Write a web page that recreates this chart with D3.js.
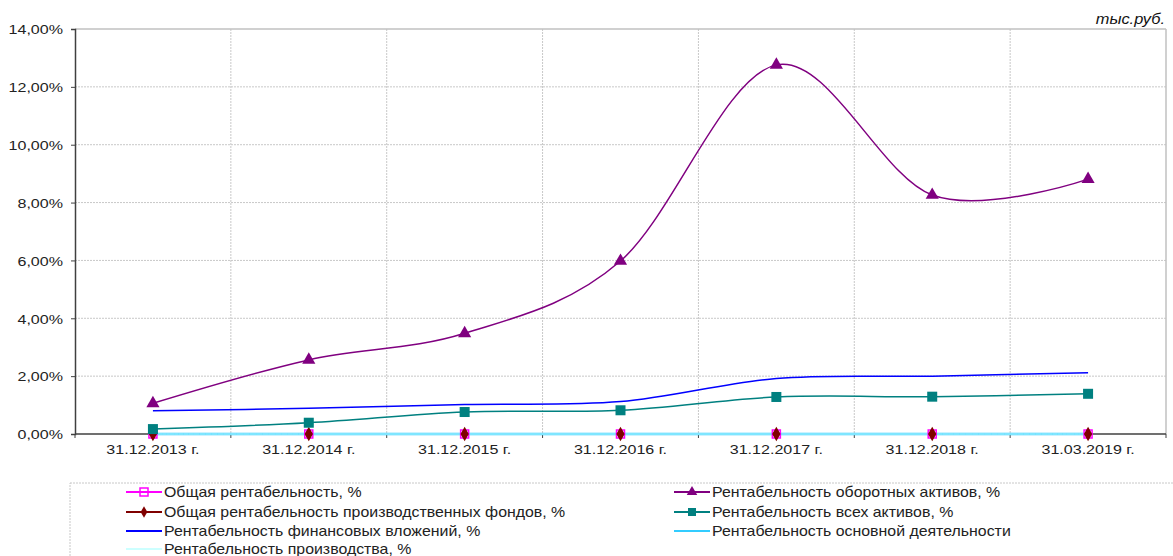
<!DOCTYPE html>
<html>
<head>
<meta charset="utf-8">
<script src="https://cdn.jsdelivr.net/npm/d3@7"></script>
<style>
    body { margin: 0; background: #fff; }
    svg text { font-family: "Liberation Sans", Arial, sans-serif; }
</style>
</head>
<body>
<div id="chart"></div>
<script>
const categories = ["31.12.2013 г.", "31.12.2014 г.", "31.12.2015 г.", "31.12.2016 г.",
    "31.12.2017 г.", "31.12.2018 г.", "31.03.2019 г."];
const yTicks = [0, 2, 4, 6, 8, 10, 12, 14];

// values, %
const obshayaRent = [0, 0, 0, 0, 0, 0, 0];
const proizvFondov = [0, 0, 0, 0, 0, 0, 0];
const finVlozheniy = [0.80, 0.89, 1.02, 1.12, 1.92, 2.00, 2.12];
const osnDeyat = [0, 0, 0, 0, 0, 0, 0];
const proizvodstva = [0, 0, 0, 0, 0, 0, 0];
const oborotAktivov = [1.06, 2.56, 3.48, 5.98, 12.76, 8.26, 8.81];
const vsehAktivov = [0.17, 0.39, 0.76, 0.82, 1.28, 1.29, 1.39];

const width = 1173, height = 556;
const margin = {top: 29, right: 7, bottom: 122, left: 75};
const plotW = width - margin.left - margin.right;
const plotH = height - margin.top - margin.bottom;

const series = [
    {name: "Общая рентабельность, %", values: obshayaRent, color: "#ff00ff", marker: "openSquare", col: 0, row: 0, w: 1.5},
    {name: "Рентабельность оборотных активов, %", values: oborotAktivov, color: "#800080", marker: "triangle", col: 1, row: 0, w: 1.5},
    {name: "Общая рентабельность производственных фондов, %", values: proizvFondov, color: "#800000", marker: "diamond", col: 0, row: 1, w: 1.5},
    {name: "Рентабельность всех активов, %", values: vsehAktivov, color: "#008080", marker: "square", col: 1, row: 1, w: 1.5},
    {name: "Рентабельность финансовых вложений, %", values: finVlozheniy, color: "#0000ff", marker: null, col: 0, row: 2, w: 1.5},
    {name: "Рентабельность основной деятельности", values: osnDeyat, color: "#33ccff", marker: null, col: 1, row: 2, w: 2.5},
    {name: "Рентабельность производства, %", values: proizvodstva, color: "#ccffff", marker: null, col: 0, row: 3, w: 1}
];

const ru = d3.formatLocale({decimal: ",", thousands: " ", grouping: [3], currency: ["", " руб."]});
const fmt = ru.format(".2f");

// the original text is a little wider than Arial, so stretch it horizontally
const stretch = 1.19;

const svg = d3.select("#chart").append("svg")
    .attr("width", width)
    .attr("height", height);

const x = d3.scaleBand().domain(categories).range([0, plotW]);
const y = d3.scaleLinear().domain([0, 14]).range([plotH, 0]);

const g = svg.append("g")
    .attr("transform", "translate(" + margin.left + "," + margin.top + ")");

// gridlines
g.append("g").selectAll("line.h")
    .data(yTicks.slice(1, -1))
    .join("line")
    .attr("x1", 0).attr("x2", plotW)
    .attr("y1", d => y(d)).attr("y2", d => y(d))
    .attr("stroke", "#c8c8c8")
    .attr("stroke-dasharray", "2,1");

g.append("g").selectAll("line.v")
    .data(categories.slice(1))
    .join("line")
    .attr("x1", d => x(d)).attr("x2", d => x(d))
    .attr("y1", 0).attr("y2", plotH)
    .attr("stroke", "#c8c8c8")
    .attr("stroke-dasharray", "2,1");

// frame top / right
g.append("line").attr("x1", 0).attr("x2", plotW).attr("y1", 0).attr("y2", 0)
    .attr("stroke", "#c0c0c0").attr("stroke-width", 1.5);
g.append("line").attr("x1", plotW).attr("x2", plotW).attr("y1", 0).attr("y2", plotH)
    .attr("stroke", "#c0c0c0").attr("stroke-width", 1.5);

// y axis
const yAxis = g.append("g")
    .call(d3.axisLeft(y).tickValues(yTicks).tickSize(4).tickFormat(""));
yAxis.select(".domain").attr("stroke", "#404040").attr("stroke-width", 1.5);
yAxis.selectAll(".tick line").attr("stroke", "#404040");
yAxis.selectAll(".tick").append("text")
    .attr("transform", "translate(-12,0) scale(" + stretch + ",1)")
    .attr("dy", "0.35em")
    .attr("text-anchor", "end")
    .attr("font-size", "13.5px")
    .attr("fill", "#222")
    .text(d => fmt(d) + "%");

// x axis: ticks at category boundaries
const xAxis = g.append("g")
    .attr("transform", "translate(0," + plotH + ")");
xAxis.append("line").attr("x1", 0).attr("x2", plotW)
    .attr("stroke", "#404040").attr("stroke-width", 1.5);
xAxis.selectAll("line.tick")
    .data(categories.concat([null]))
    .join("line")
    .attr("x1", (d, i) => i * x.step()).attr("x2", (d, i) => i * x.step())
    .attr("y1", 0).attr("y2", 4)
    .attr("stroke", "#404040");
xAxis.selectAll("text")
    .data(categories)
    .join("text")
    .attr("transform", d => "translate(" + (x(d) + x.bandwidth() / 2) + ",20) scale(" + stretch + ",1)")
    .attr("text-anchor", "middle")
    .attr("font-size", "13.5px")
    .attr("fill", "#222")
    .text(d => d);

// lines
const line = d3.line()
    .x((d, i) => x(categories[i]) + x.bandwidth() / 2)
    .y(d => y(d))
    .curve(d3.curveCardinal.tension(0));

const drawOrder = [0, 2, 4, 5, 6, 1, 3];
drawOrder.forEach(idx => {
    const s = series[idx];
    g.append("path")
        .datum(s.values)
        .attr("fill", "none")
        .attr("stroke", s.color)
        .attr("stroke-width", s.w)
        .attr("d", line);
});

function drawMarker(sel, type, color, size) {
    if (type === "openSquare") {
        sel.append("rect").attr("x", -size / 2).attr("y", -size / 2)
            .attr("width", size).attr("height", size)
            .attr("fill", "none").attr("stroke", color).attr("stroke-width", 1.5);
    } else if (type === "square") {
        sel.append("rect").attr("x", -size / 2).attr("y", -size / 2)
            .attr("width", size).attr("height", size)
            .attr("fill", color);
    } else if (type === "triangle") {
        sel.append("path").attr("d", d3.symbol(d3.symbolTriangle, size * size * 0.75)())
            .attr("fill", color);
    } else if (type === "diamond") {
        sel.append("path").attr("d", d3.symbol(d3.symbolDiamond, size * size * 0.6)())
            .attr("fill", color);
    }
}

[0, 2, 1, 3].forEach(idx => {
    const s = series[idx];
    g.append("g").selectAll("g")
        .data(s.values)
        .join("g")
        .attr("transform", (d, i) => "translate(" + (x(categories[i]) + x.bandwidth() / 2) + "," + y(d) + ")")
        .each(function () { drawMarker(d3.select(this), s.marker, s.color, idx === 0 ? 8 : 10); });
});

// units label
svg.append("text")
    .attr("transform", "translate(1165,24) scale(1.17,1)")
    .attr("text-anchor", "end")
    .attr("font-size", "14px")
    .attr("font-style", "italic")
    .attr("fill", "#111")
    .text("тыс.руб.");

// legend
const legend = svg.append("g");
legend.append("rect")
    .attr("x", 70).attr("y", 483)
    .attr("width", 1120).attr("height", 100)
    .attr("fill", "#fff")
    .attr("stroke", "#c8c8c8")
    .attr("stroke-dasharray", "2,1");

const colX = [126, 674];
const rowY = [492, 512, 531, 549];
series.forEach(s => {
    const lg = legend.append("g")
        .attr("transform", "translate(" + colX[s.col] + "," + rowY[s.row] + ")");
    lg.append("line").attr("x1", 0).attr("x2", 36)
        .attr("stroke", s.color).attr("stroke-width", 2);
    if (s.marker) {
        const mg = lg.append("g").attr("transform", "translate(18,0)");
        drawMarker(mg, s.marker, s.color, 8);
    }
    lg.append("text")
        .attr("transform", "translate(38,5) scale(1.135,1)")
        .attr("font-size", "14px")
        .attr("fill", "#222")
        .text(s.name);
});
</script>
</body>
</html>
